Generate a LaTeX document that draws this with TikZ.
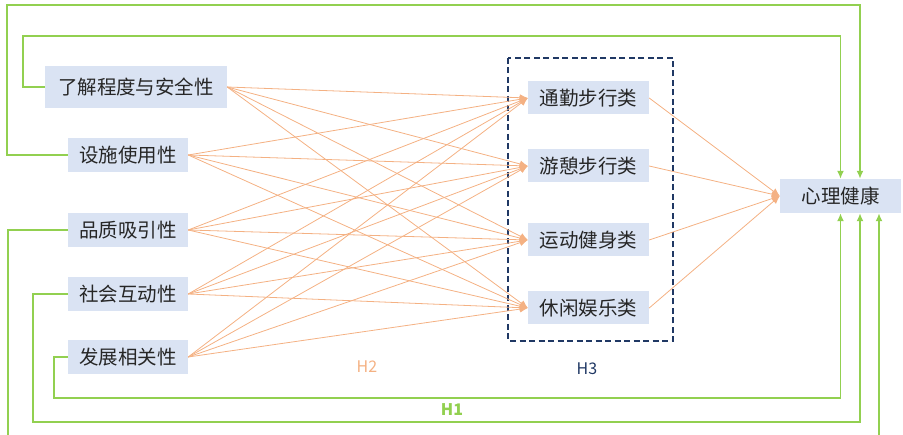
\documentclass[tikz,border=0pt]{standalone}
\usepackage{fontspec}
\setmainfont{Noto Sans CJK SC}
\usepackage{xcolor}
\usetikzlibrary{calc}
\usetikzlibrary{arrows.meta}
\definecolor{boxfill}{RGB}{218,227,243}
\definecolor{orangeline}{RGB}{244,177,131}
\definecolor{greenline}{RGB}{146,208,80}
\definecolor{navyline}{RGB}{32,56,100}

\begin{document}
\begin{tikzpicture}[x=1pt, y=-1pt,
        factor/.style={rectangle, fill=boxfill, inner sep=0pt, minimum width=120pt, minimum height=34pt, text=black!85, font=\fontsize{19.5}{22}\selectfont},
        paths/.style={draw=orangeline, line width=0.8pt, -{Latex[length=8pt,width=7pt]}},
        feedback/.style={draw=greenline, line width=1.8pt, -{Latex[length=8pt,width=7pt]}},
        hlabel/.style={font=\fontsize{16}{18}\selectfont}
    ]
    
        \useasboundingbox (0,0) rectangle (903,435);
        \clip (0,0) rectangle (903,435);
    
        % Nodes
        \node[factor, minimum width=182pt, minimum height=42pt] (x1) at (136,87) {了解程度与安全性};
        \node[factor] (x2) at (128,155) {设施使用性};
        \node[factor] (x3) at (128,230) {品质吸引性};
        \node[factor] (x4) at (128,294) {社会互动性};
        \node[factor] (x5) at (128,357) {发展相关性};
        
        \node[factor, minimum width=121pt, minimum height=33pt] (m1) at (588.5,98) {通勤步行类};
        \node[factor, minimum width=121pt, minimum height=33pt] (m2) at (588.5,166) {游憩步行类};
        \node[factor, minimum width=121pt, minimum height=33pt] (m3) at (588.5,240) {运动健身类};
        \node[factor, minimum width=121pt, minimum height=33pt] (m4) at (588.5,308) {休闲娱乐类};
        
        \node[factor, minimum width=121pt] (y) at (840.5,196) {心理健康};
        
        % Dashed frame round the middle group
        \draw[navyline, line width=2.8pt, dash pattern=on 6pt off 3.5pt] (508,58) rectangle (673,341);
        
        % Labels
        \node[hlabel, text=orangeline] (h2) at (367,367) {H2};
        \node[hlabel, text=navyline] (h3) at (587,369) {H3};
        \node[hlabel, text=greenline, font=\fontsize{16}{18}\selectfont\bfseries] (h1) at (452,410) {H1};
        
        % Paths: H2
        \draw[paths] (x1.east) -- (m1.west);
        \draw[paths] (x1.east) -- (m2.west);
        \draw[paths] (x1.east) -- (m3.west);
        \draw[paths] (x1.east) -- (m4.west);
        
        \draw[paths] (x2.east) -- (m1.west);
        \draw[paths] (x2.east) -- (m2.west);
        \draw[paths] (x2.east) -- (m3.west);
        \draw[paths] (x2.east) -- (m4.west);
        
        \draw[paths] (x3.east) -- (m1.west);
        \draw[paths] (x3.east) -- (m2.west);
        \draw[paths] (x3.east) -- (m3.west);
        \draw[paths] (x3.east) -- (m4.west);
        
        \draw[paths] (x4.east) -- (m1.west);
        \draw[paths] (x4.east) -- (m2.west);
        \draw[paths] (x4.east) -- (m3.west);
        \draw[paths] (x4.east) -- (m4.west);
        
        \draw[paths] (x5.east) -- (m1.west);
        \draw[paths] (x5.east) -- (m2.west);
        \draw[paths] (x5.east) -- (m3.west);
        \draw[paths] (x5.east) -- (m4.west);
        
        % Paths: H3
        \draw[paths] (m1.east) -- (y.west);
        \draw[paths] (m2.east) -- (y.west);
        \draw[paths] (m3.east) -- (y.west);
        \draw[paths] (m4.east) -- (y.west);
        
        % Paths: H1 (direct effects)
        \coordinate (top1) at (7,5);
        \coordinate (top2) at (23,36);
        \coordinate (bot1) at (54,398);
        \coordinate (bot2) at (33,422);
        \coordinate (bot3) at (8,450);
        
        \draw[feedback] (x1.west) -| (top2) -| (y.north);
        \draw[feedback] (x2.west) -| (top1) -| ([xshift=19.5pt]y.north);
        \draw[feedback] (x3.west) -| (bot3) -| ([xshift=38.5pt]y.south);
        \draw[feedback] (x4.west) -| (bot2) -| ([xshift=19.5pt]y.south);
        \draw[feedback] (x5.west) -| (bot1) -| (y.south);
\end{tikzpicture}
\end{document}
